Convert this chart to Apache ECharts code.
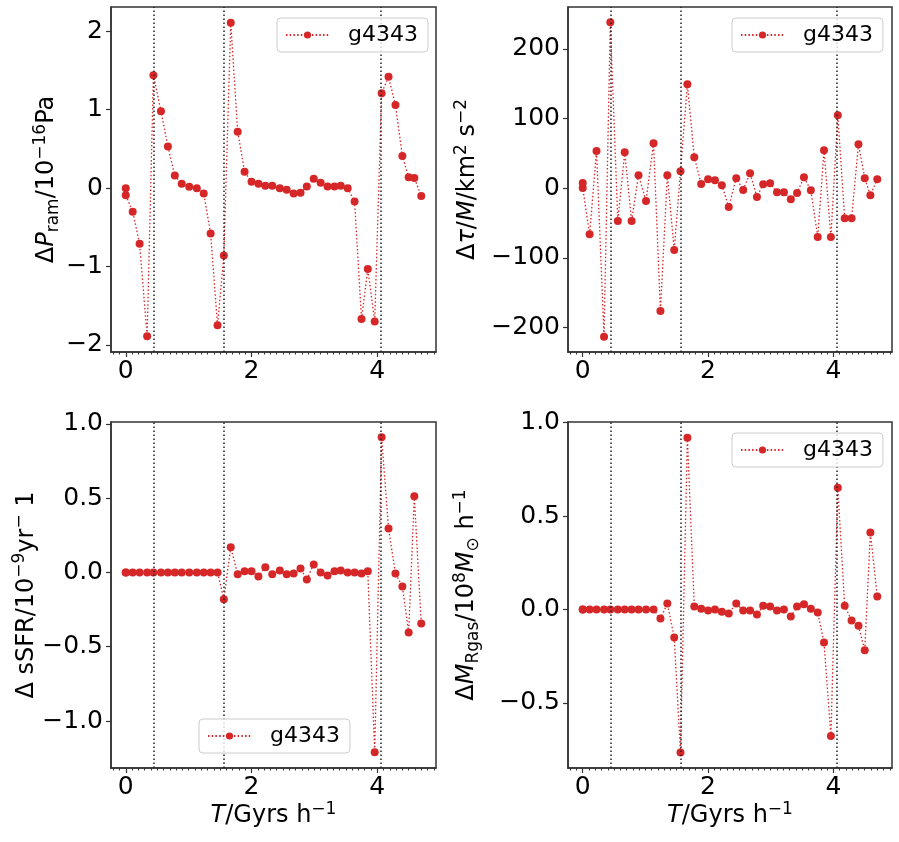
<!DOCTYPE html>
<html>
<head>
<meta charset="utf-8">
<script src="https://cdn.jsdelivr.net/npm/echarts@6.0.0/dist/echarts.min.js"></script>
<style>
  html, body { margin: 0; padding: 0; background: #fff; }
  #chart { width: 899px; height: 842px; }
</style>
</head>
<body>
<div id="chart"></div>
<script>
// snapshot times (first snapshot appears twice in the data)
const times = [0, 0, 0.11, 0.22, 0.34, 0.44, 0.56, 0.67, 0.78, 0.89, 1.01, 1.13, 1.24, 1.35, 1.46,
  1.56, 1.67, 1.78, 1.89, 2.0, 2.11, 2.22, 2.33, 2.45, 2.56, 2.67, 2.78, 2.88, 2.99, 3.1,
  3.21, 3.32, 3.42, 3.53, 3.64, 3.75, 3.85, 3.96, 4.07, 4.18, 4.29, 4.4, 4.5, 4.59, 4.7];

const deltaPram = [0, -0.09, -0.30, -0.71, -1.89, 1.44, 0.98, 0.53, 0.16, 0.055, 0.017, 0.00, -0.07, -0.58, -1.75,
  -0.86, 2.11, 0.72, 0.21, 0.08, 0.055, 0.03, 0.03, 0.00, -0.02, -0.07, -0.06, 0.02, 0.12, 0.07,
  0.02, 0.02, 0.03, 0.00, -0.17, -1.67, -1.03, -1.70, 1.21, 1.42, 1.06, 0.41, 0.14, 0.13, -0.10];

const deltaTorque = [7.6, 0.4, -66, 53.5, -213, 238, -47, 51.6, -47, 18.6, -18.2, 64.5, -176, 18.6, -88.5,
  24.4, 149, 44.5, 6.2, 12.9, 11.5, 4.3, -26.8, 14.3, -2.4, 21.5, -12.5, 5.7, 7.2, -5.7,
  -5.7, -15.8, -6.7, 15.8, -2.9, -70, 54.5, -70, 104.7, -43, -43, 63, 14.3, -10, 12.9];

const deltaSsfr = [0, 0, 0, 0, 0, 0, 0, 0, 0, 0, 0, 0, 0, 0, 0,
  -0.18, 0.17, -0.013, 0.007, 0.007, -0.027, 0.034, -0.013, 0.013, -0.013, -0.007, 0.027, -0.047, 0.054, 0,
  -0.02, 0.007, 0.013, 0, 0, -0.007, 0.007, -1.21, 0.909, 0.296, -0.007, -0.094, -0.404, 0.512, -0.343];

const deltaMgas = [0, 0, 0, 0, 0, 0, 0, 0, 0, 0, 0, 0, -0.048, 0.032, -0.15,
  -0.765, 0.92, 0.016, 0.005, -0.005, 0, -0.011, -0.021, 0.032, -0.005, -0.005, -0.027, 0.021, 0.016, -0.005,
  0, -0.037, 0.016, 0.028, 0.005, -0.016, -0.176, -0.677, 0.652, 0.021, -0.059, -0.086, -0.218, 0.412, 0.07];

const eventTimes = [0.44, 1.56, 4.06];
const xTicks = [0, 2, 4];
const seriesName = "g4343";

const FONT = "DejaVu Sans";
const RED = "#d62728";
const AXIS = "#333";

// minor ticks every 0.1 on the time axis, skipping the major ones
const xMinorTicks = [];
for (let k = -2; k <= 49; k++) {
  if (k % 20 !== 0) xMinorTicks.push(k / 10);
}

const rich = {
  n: { fontSize: 24, lineHeight: 30 },
  it: { fontSize: 24, lineHeight: 30, fontStyle: "italic" },
  sup: { fontSize: 17, lineHeight: 16, verticalAlign: "top" },
  sub: { fontSize: 17, lineHeight: 16, verticalAlign: "bottom" },
};

const panels = [
  {
    grid: { left: 111, top: 7, width: 325, height: 345 },
    values: deltaPram, yMin: -2.09, yMax: 2.31, yTicks: [-2, -1, 0, 1, 2], digits: 0,
    yName: "{n|Δ}{it|P}{sub|ram}{n|/10}{sup|−16}{n|Pa}", yGap: 49,
    legend: { left: 277, top: 18 }, xName: false,
  },
  {
    grid: { left: 568, top: 7, width: 324, height: 345 },
    values: deltaTorque, yMin: -235, yMax: 260, yTicks: [-200, -100, 0, 100, 200], digits: 0,
    yName: "{n|Δ}{it|τ}{n|/}{it|M}{n|/km}{sup|2}{n| s}{sup|−2}", yGap: 85,
    legend: { left: 732, top: 18 }, xName: false,
  },
  {
    grid: { left: 111, top: 422, width: 325, height: 346 },
    values: deltaSsfr, yMin: -1.316, yMax: 1.012, yTicks: [-1, -0.5, 0, 0.5, 1], digits: 1,
    yName: "{n|Δ sSFR/10}{sup|−9}{n|yr}{sup|−}{n| 1}", yGap: 69,
    legend: { left: 199, top: 719 }, xName: true,
  },
  {
    grid: { left: 568, top: 422, width: 324, height: 346 },
    values: deltaMgas, yMin: -0.848, yMax: 1.004, yTicks: [-0.5, 0, 0.5, 1], digits: 1,
    yName: "{n|Δ}{it|M}{sub|Rgas}{n|/10}{sup|8}{it|M}{sub|⊙}{n| h}{sup|−1}", yGap: 86,
    legend: { left: 732, top: 433 }, xName: true,
  },
];

function fmt(v, digits) {
  return v.toFixed(digits).replace("-", "−");
}

function buildOption() {
  const grid = panels.map((p) => ({
    ...p.grid, show: true, borderColor: AXIS, borderWidth: 1.5, backgroundColor: "transparent",
  }));

  const xAxis = [];
  panels.forEach((p, i) => {
    xAxis.push({
      type: "value", gridIndex: i, position: "bottom", min: -0.235, max: 4.935, splitNumber: 3,
      name: p.xName ? "{it|T}{n|/Gyrs h}{sup|−1}" : "",
      nameLocation: "middle", nameGap: 32,
      nameTextStyle: { fontFamily: FONT, color: "#000", rich },
      axisLine: { show: true, onZero: false, lineStyle: { color: AXIS, width: 1.5 } },
      axisTick: { show: true, length: 5, customValues: xTicks, lineStyle: { color: AXIS, width: 1.2 } },
      axisLabel: { customValues: xTicks, margin: 7, fontFamily: FONT, fontSize: 25, color: "#000",
        formatter: (v) => fmt(v, 0) },
      splitLine: { show: false },
    });
  });
  // second axis per panel only carries the minor ticks
  panels.forEach((p, i) => {
    xAxis.push({
      type: "value", gridIndex: i, position: "bottom", offset: 0, min: -0.235, max: 4.935, splitNumber: 3,
      axisLine: { show: false, onZero: false },
      axisTick: { show: true, length: 2.5, customValues: xMinorTicks, lineStyle: { color: AXIS, width: 1 } },
      axisLabel: { show: false },
      splitLine: { show: false },
    });
  });

  const yAxis = panels.map((p, i) => ({
    type: "value", gridIndex: i, min: p.yMin, max: p.yMax,
    name: p.yName, nameLocation: "middle", nameGap: p.yGap,
    nameTextStyle: { fontFamily: FONT, color: "#000", rich },
    axisLine: { show: true, onZero: false, lineStyle: { color: AXIS, width: 1.5 } },
    axisTick: { show: true, length: 5, customValues: p.yTicks, lineStyle: { color: AXIS, width: 1.2 } },
    axisLabel: { customValues: p.yTicks, margin: 8, fontFamily: FONT, fontSize: 25, color: "#000",
      formatter: (v) => fmt(v, p.digits) },
    splitLine: { show: false },
  }));

  const series = panels.map((p, i) => ({
    name: seriesName,
    type: "line",
    xAxisIndex: i,
    yAxisIndex: i,
    data: times.map((t, k) => [t, p.values[k]]),
    symbol: "circle",
    symbolSize: 8,
    itemStyle: { color: RED },
    lineStyle: { color: RED, width: 1.3, type: [1.5, 2.2] },
    markLine: {
      silent: true,
      symbol: ["none", "none"],
      label: { show: false },
      lineStyle: { color: "#222", width: 1.5, type: [1.5, 2.5] },
      data: eventTimes.map((t) => ({ xAxis: t })),
    },
  }));

  const legend = panels.map((p) => ({
    data: [seriesName],
    left: p.legend.left,
    top: p.legend.top,
    itemWidth: 43,
    itemHeight: 9,
    padding: [6, 10, 6, 8],
    borderColor: "#cccccc",
    borderWidth: 1,
    borderRadius: 4,
    backgroundColor: "rgba(255,255,255,0.8)",
    selectedMode: false,
    z: 10,
    textStyle: { fontFamily: FONT, fontSize: 22, color: "#000", padding: [0, 0, 0, 14] },
  }));

  return { animation: false, grid, xAxis, yAxis, series, legend };
}

const chart = echarts.init(document.getElementById("chart"));
chart.setOption(buildOption());
</script>
</body>
</html>
